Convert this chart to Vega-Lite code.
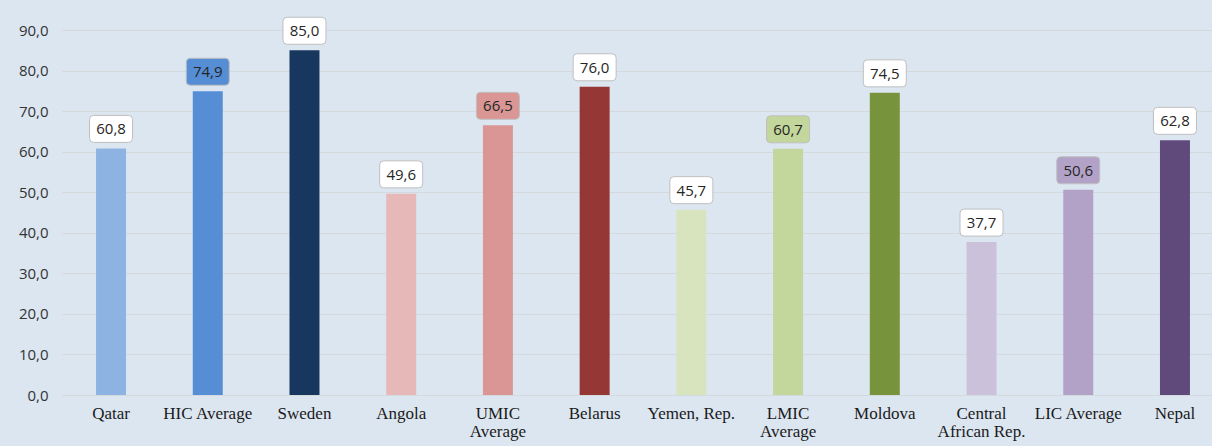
{
  "$schema": "https://vega.github.io/schema/vega-lite/v6.json",
  "width": 1150,
  "height": 365,
  "autosize": {"type": "none"},
  "padding": {"left": 62, "top": 30, "right": 0, "bottom": 51},
  "background": "#dce6f1",
  "config": {
    "view": {"stroke": null},
    "locale": {"number": {"decimal": ",", "thousands": ".", "grouping": [3], "currency": ["", " €"]}}
  },
  "data": {
    "values": [
      {"name": "Qatar", "type": "Country", "value": 60.8},
      {"name": "HIC Average", "type": "Average", "value": 74.9},
      {"name": "Sweden", "type": "Country", "value": 85.0},
      {"name": "Angola", "type": "Country", "value": 49.6},
      {"name": "UMIC|Average", "type": "Average", "value": 66.5},
      {"name": "Belarus", "type": "Country", "value": 76.0},
      {"name": "Yemen, Rep.", "type": "Country", "value": 45.7},
      {"name": "LMIC|Average", "type": "Average", "value": 60.7},
      {"name": "Moldova", "type": "Country", "value": 74.5},
      {"name": "Central|African Rep.", "type": "Country", "value": 37.7},
      {"name": "LIC Average", "type": "Average", "value": 50.6},
      {"name": "Nepal", "type": "Country", "value": 62.8}
    ]
  },
  "encoding": {
    "x": {
      "field": "name",
      "type": "nominal",
      "sort": null,
      "title": null,
      "scale": {"paddingInner": 0.69, "paddingOuter": 0.29, "align": 0.607},
      "axis": {
        "labelAngle": 0,
        "labelExpr": "split(datum.label, '|')",
        "labelFont": "Liberation Serif",
        "labelFontSize": 17,
        "labelFontWeight": "normal",
        "labelColor": "#1a1a1a",
        "labelLineHeight": 18,
        "labelPadding": 10,
        "ticks": false,
        "tickSize": 0,
        "domain": false,
        "grid": false
      }
    },
    "y": {
      "field": "value",
      "type": "quantitative",
      "title": null,
      "scale": {"domain": [0, 90], "nice": false},
      "axis": {
        "values": [0, 10, 20, 30, 40, 50, 60, 70, 80, 90],
        "format": ".1f",
        "labelFont": "Open Sans",
        "labelFontSize": 15,
        "labelColor": "#333333",
        "labelPadding": 14,
        "ticks": false,
        "tickSize": 0,
        "domain": false,
        "grid": true,
        "gridColor": "#d4d9de",
        "gridWidth": 1
      }
    },
    "color": {
      "field": "name",
      "type": "nominal",
      "legend": null,
      "scale": {
        "domain": ["Qatar", "HIC Average", "Sweden", "Angola", "UMIC|Average", "Belarus", "Yemen, Rep.", "LMIC|Average", "Moldova", "Central|African Rep.", "LIC Average", "Nepal"],
        "range": ["#8db3e2", "#558ed5", "#17375e", "#e6b9b8", "#d99694", "#953735", "#d7e4bd", "#c3d69b", "#77933c", "#ccc1da", "#b3a2c7", "#604a7b"]
      }
    }
  },
  "layer": [
    {"mark": {"type": "bar"}},
    {
      "mark": {
        "type": "point",
        "filled": true,
        "opacity": 1,
        "shape": "M-0.814,-0.628 L0.814,-0.628 Q1,-0.628 1,-0.442 L1,0.442 Q1,0.628 0.814,0.628 L-0.814,0.628 Q-1,0.628 -1,0.442 L-1,-0.442 Q-1,-0.628 -0.814,-0.628 Z",
        "size": 1849,
        "stroke": "#bfbfbf",
        "strokeWidth": 1,
        "yOffset": -19.5
      },
      "encoding": {
        "color": {
          "condition": {"test": "datum.type === 'Country'", "value": "#ffffff"},
          "field": "name",
          "type": "nominal",
          "legend": null
        }
      }
    },
    {
      "mark": {
        "type": "text",
        "font": "Open Sans",
        "fontSize": 15,
        "baseline": "middle",
        "align": "center",
        "yOffset": -19
      },
      "encoding": {
        "text": {"field": "value", "type": "quantitative", "format": ".1f"},
        "color": {"value": "#262626"}
      }
    }
  ]
}
